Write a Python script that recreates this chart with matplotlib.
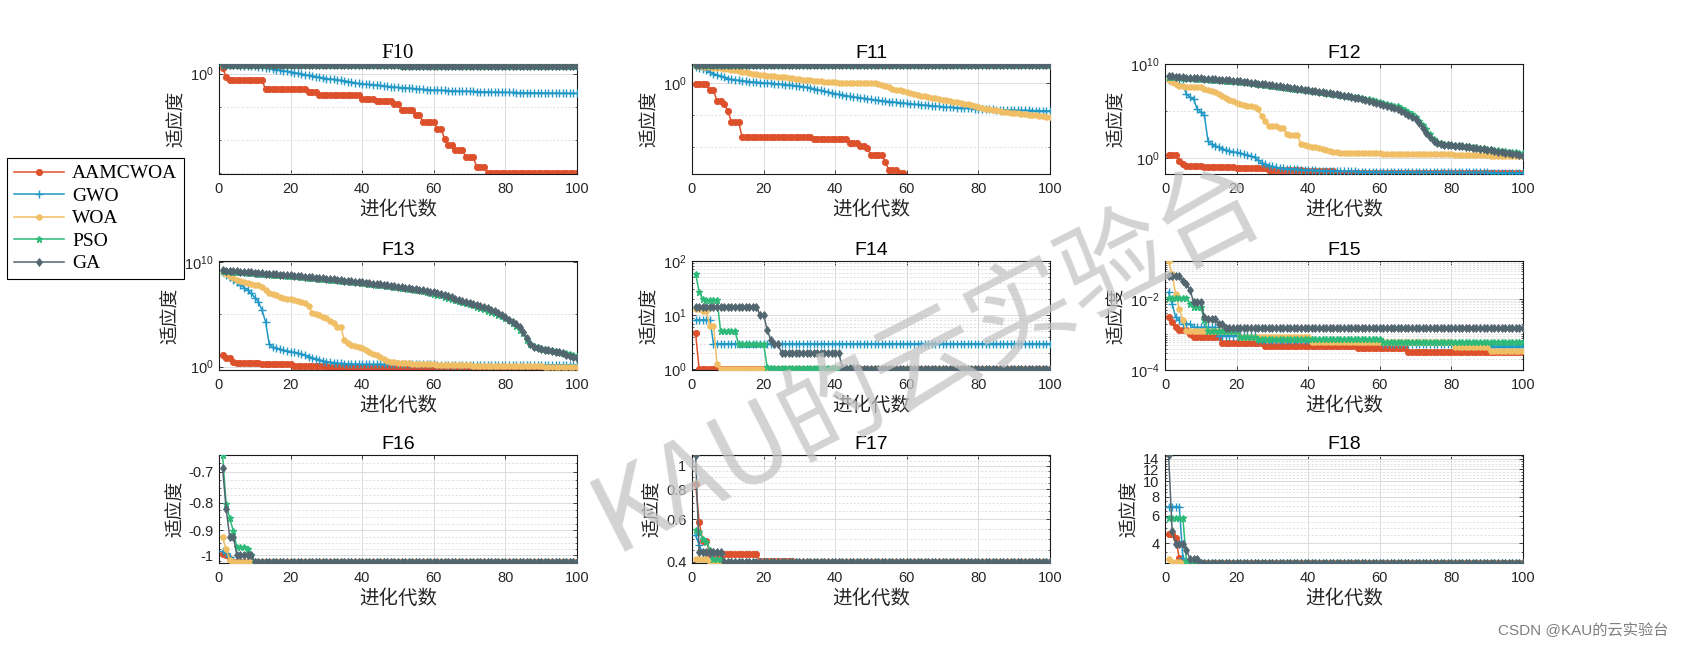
import numpy as np
import matplotlib
matplotlib.use('Agg')
import matplotlib.pyplot as plt
from matplotlib.ticker import FixedLocator, FixedFormatter, NullFormatter, NullLocator, LogFormatterSciNotation
from matplotlib.lines import Line2D

plt.rcParams['font.family'] = ['Liberation Sans', 'Noto Sans CJK SC']
plt.rcParams['mathtext.fontset'] = 'custom'
plt.rcParams['mathtext.rm'] = 'Liberation Sans'
plt.rcParams['mathtext.it'] = 'Liberation Sans:italic'
plt.rcParams['mathtext.bf'] = 'Liberation Sans:bold'


def rl(*pairs):
    """run-length literal: (value, count) pairs"""
    out = []
    for v, n in pairs:
        out.extend([v] * n)
    return out


NAN = float('nan')
ITER = list(range(1, 101))
ALGS = ['AAMCWOA', 'GWO', 'WOA', 'PSO', 'GA']
TITLES = ['F10', 'F11', 'F12', 'F13', 'F14', 'F15', 'F16', 'F17', 'F18']

# ---------- F10 (log10 of fitness) ----------
F10_AAMCWOA = rl((0.86, 1), (-0.5, 1), (-1.0, 10), (-2.37, 12), (-2.78, 3), (-3.28, 12), (-3.79, 4),
                 (-4.19, 5), (-4.65, 2), (-5.56, 4), (-6.31, 2), (-7.32, 4), (-8.33, 2), (-9.85, 1),
                 (-10.86, 2), (-11.62, 3), (-12.63, 3), (-14.14, 3), (-15.05, 26))
F10_GWO = [1.25, 1.25, 1.25, 1.25, 1.24, 1.22, 1.2, 1.18, 1.12, 1.08,
           1.05, 1.0, 0.92, 0.82, 0.72, 0.6, 0.52, 0.44, 0.35, 0.25,
           0.15, 0.05, -0.05, -0.15, -0.25, -0.35, -0.45, -0.55, -0.65, -0.75,
           -0.82, -0.88, -0.95, -1.02, -1.1, -1.2, -1.3, -1.4, -1.5, -1.55,
           -1.6, -1.65, -1.7, -1.75, -1.8, -1.86, -1.93, -2.0, -2.04, -2.08,
           -2.12, -2.16, -2.2, -2.25, -2.3, -2.34, -2.38, -2.42, -2.46, -2.5,
           -2.52, -2.54, -2.56, -2.58, -2.6, -2.63, -2.65, -2.66, -2.68, -2.7,
           -2.71, -2.72, -2.74, -2.76, -2.78, -2.8, -2.81, -2.82, -2.83, -2.84,
           -2.85, -2.86, -2.87, -2.88, -2.89, -2.9, -2.9, -2.91, -2.92, -2.93,
           -2.94, -2.95, -2.95, -2.96, -2.97, -2.97, -2.98, -2.99, -2.99, -3.0]
F10_WOA = rl((1.36, 50), (1.35, 50))
F10_PSO = rl((1.34, 20), (1.28, 30), (1.2, 30), (1.08, 20))
F10_GA = rl((1.35, 20), (1.3, 30), (1.22, 30), (1.12, 20))

# ---------- F11 (log10 of fitness; NaN = 0, not drawable on log axis) ----------
F11_AAMCWOA = rl((-0.26, 4), (-1.2, 2), (-2.86, 2), (-3.3, 1), (-4.4, 1), (-6.1, 3), (-8.5, 20),
                 (-8.75, 10), (-9.5, 3), (-9.9, 2), (-10.3, 1), (-11.35, 4), (-12.4, 1), (-13.7, 3),
                 (-14.2, 2), (NAN, 41))
F11_GWO = [2.55, 2.35, 2.15, 1.95, 1.7, 1.45, 1.25, 1.05, 0.85, 0.65,
           0.55, 0.47, 0.4, 0.33, 0.26, 0.2, 0.14, 0.09, 0.04, 0.0,
           -0.04, -0.08, -0.12, -0.16, -0.22, -0.28, -0.34, -0.4, -0.46, -0.52,
           -0.58, -0.68, -0.8, -0.92, -1.05, -1.2, -1.33, -1.46, -1.58, -1.7,
           -1.8, -1.9, -2.0, -2.1, -2.2, -2.28, -2.36, -2.44, -2.52, -2.6,
           -2.68, -2.76, -2.82, -2.88, -2.94, -3.0, -3.06, -3.12, -3.18, -3.24,
           -3.3, -3.35, -3.4, -3.45, -3.5, -3.55, -3.6, -3.65, -3.7, -3.75,
           -3.8, -3.83, -3.86, -3.89, -3.92, -3.95, -3.98, -4.01, -4.04, -4.06,
           -4.09, -4.12, -4.15, -4.18, -4.2, -4.22, -4.24, -4.26, -4.28, -4.3,
           -4.31, -4.32, -4.33, -4.34, -4.35, -4.36, -4.37, -4.38, -4.39, -4.4]
F11_WOA = [2.6, 2.6, 2.55, 2.5, 2.45, 2.4, 2.35, 2.3, 2.2, 2.1,
           2.05, 1.95, 1.85, 1.75, 1.67, 1.55, 1.45, 1.35, 1.25, 1.15,
           1.1, 1.05, 1.0, 0.95, 0.9, 0.85, 0.75, 0.68, 0.6, 0.55,
           0.5, 0.45, 0.4, 0.35, 0.3, 0.25, 0.2, 0.12, 0.08, 0.05,
           0.03, 0.02, 0.01, 0.0, 0.0, 0.0, 0.0, 0.0, -0.02, -0.05,
           -0.1, -0.2, -0.35, -0.5, -0.7, -0.9, -1.05, -1.2, -1.35, -1.5,
           -1.6, -1.7, -1.85, -2.0, -2.1, -2.24, -2.35, -2.45, -2.55, -2.65,
           -2.76, -2.85, -2.95, -3.05, -3.15, -3.28, -3.4, -3.55, -3.7, -3.85,
           -3.95, -4.05, -4.15, -4.22, -4.3, -4.4, -4.5, -4.58, -4.66, -4.74,
           -4.8, -4.86, -4.92, -5.0, -5.06, -5.12, -5.18, -5.24, -5.3, -5.36]
F11_PSO = rl((2.8, 100))
F11_GA = rl((2.8, 100))

# ---------- F12 (log10 of fitness) ----------
F12_AAMCWOA = rl((0.35, 3), (-0.25, 1), (-0.55, 1), (-0.8, 5), (-0.92, 9), (-1.05, 9), (-1.2, 10),
                 (-1.35, 9), (-1.5, 20), (-1.58, 33))
F12_GWO = [8.35, 8.2, 8.0, 7.85, 7.8, 6.8, 6.5, 6.25, 5.2, 4.9,
           4.56, 1.86, 1.5, 1.33, 1.2, 1.05, 0.9, 0.8, 0.7, 0.63,
           0.55, 0.45, 0.35, 0.28, 0.1, -0.2, -0.45, -0.6, -0.75, -0.85,
           -0.95, -1.0, -1.05, -1.08, -1.1, -1.12, -1.15, -1.18, -1.2, -1.22,
           -1.24, -1.26, -1.28, -1.3, -1.3, -1.31, -1.32, -1.33, -1.34, -1.35,
           -1.36, -1.37, -1.38, -1.39, -1.4, -1.4, -1.41, -1.41, -1.42, -1.42] + \
          rl((-1.43, 10), (-1.46, 10), (-1.49, 10), (-1.52, 10))
F12_WOA = [8.35, 8.1, 7.9, 7.7, 7.65, 7.6, 7.6, 7.58, 7.56, 7.56,
           7.4, 7.2, 7.1, 7.0, 6.8, 6.6, 6.4, 6.2, 6.05, 5.9,
           5.8, 5.7, 5.6, 5.5, 5.4, 5.2, 4.5, 4.0, 3.44, 3.44,
           3.44, 3.26, 3.26, 2.56, 2.5, 2.46, 2.46, 1.5, 1.4, 1.3,
           1.2, 1.16, 1.1, 1.0, 0.9, 0.8, 0.7, 0.65, 0.6, 0.58] + \
          rl((0.56, 10), (0.5, 10), (0.45, 10), (0.38, 10), (0.3, 5), (0.22, 5))
F12_PSO = [8.65, 8.63, 8.6, 8.58, 8.55, 8.53, 8.5, 8.48, 8.45, 8.43,
           8.4, 8.38, 8.35, 8.33, 8.3, 8.28, 8.25, 8.22, 8.2, 8.17,
           8.13, 8.09, 8.05, 8.0, 7.95, 7.9, 7.85, 7.8, 7.75, 7.7,
           7.65, 7.6, 7.55, 7.5, 7.45, 7.4, 7.35, 7.3, 7.25, 7.2,
           7.15, 7.1, 7.05, 7.0, 6.95, 6.9, 6.85, 6.8, 6.75, 6.7,
           6.64, 6.58, 6.52, 6.46, 6.4, 6.33, 6.25, 6.17, 6.08, 6.0,
           5.9, 5.8, 5.7, 5.6, 5.5, 5.35, 5.15, 4.95, 4.7, 4.42,
           4.0, 3.5, 3.09, 2.6, 2.1, 1.75, 1.6, 1.52, 1.48, 1.45,
           1.42, 1.39, 1.36, 1.33, 1.28, 1.23, 1.18, 1.13, 1.08, 1.03,
           0.98, 0.93, 0.88, 0.83, 0.78, 0.73, 0.68, 0.64, 0.6, 0.56]
F12_GA = [8.7, 8.68, 8.65, 8.62, 8.6, 8.57, 8.55, 8.52, 8.5, 8.47,
          8.45, 8.42, 8.4, 8.37, 8.35, 8.32, 8.3, 8.27, 8.24, 8.2,
          8.16, 8.12, 8.08, 8.03, 7.98, 7.93, 7.88, 7.83, 7.78, 7.73,
          7.68, 7.63, 7.58, 7.53, 7.48, 7.42, 7.37, 7.32, 7.27, 7.22,
          7.17, 7.12, 7.07, 7.02, 6.97, 6.92, 6.87, 6.8, 6.73, 6.66,
          6.59, 6.52, 6.45, 6.38, 6.3, 6.22, 6.12, 6.0, 5.88, 5.76,
          5.64, 5.52, 5.4, 5.3, 5.2, 5.0, 4.8, 4.6, 4.4, 4.14,
          3.7, 3.2, 2.74, 2.3, 1.86, 1.6, 1.5, 1.45, 1.42, 1.38,
          1.35, 1.32, 1.29, 1.26, 1.2, 1.14, 1.08, 1.02, 0.96, 0.9,
          0.84, 0.78, 0.72, 0.66, 0.6, 0.54, 0.48, 0.42, 0.36, 0.3]

# ---------- F13 (log10 of fitness) ----------
F13_AAMCWOA = rl((1.1, 1), (0.8, 2), (0.48, 1), (0.35, 7), (0.25, 9), (0.1, 10), (-0.05, 10),
                 (-0.15, 20), (-0.22, 20), (-0.27, 20))
F13_GWO = [9.05, 8.8, 8.55, 8.3, 8.05, 7.8, 7.55, 7.3, 7.0, 6.6,
           6.2, 5.4, 4.3, 2.2, 1.84, 1.75, 1.65, 1.55, 1.5, 1.43,
           1.35, 1.28, 1.2, 1.1, 0.95, 0.85, 0.75, 0.65, 0.55, 0.48,
           0.42, 0.38, 0.34, 0.3, 0.28, 0.26, 0.25, 0.24, 0.23, 0.22] + \
          rl((0.21, 20), (0.18, 20), (0.16, 20))
F13_WOA = [9.05, 8.85, 8.65, 8.45, 8.25, 8.15, 8.05, 7.95, 7.9, 7.85,
           7.8, 7.6, 7.3, 7.0, 6.9, 6.8, 6.7, 6.6, 6.5, 6.45,
           6.35, 6.25, 6.2, 6.1, 5.8, 5.1, 5.0, 4.9, 4.75, 4.6,
           4.4, 4.2, 3.8, 3.8, 2.54, 2.3, 2.1, 2.0, 1.9, 1.8,
           1.6, 1.4, 1.2, 1.1, 0.9, 0.7, 0.55, 0.48, 0.42, 0.38,
           0.35, 0.33, 0.31, 0.29, 0.27, 0.25, 0.24, 0.23, 0.22, 0.21] + \
          rl((0.15, 10), (0.1, 10), (0.05, 10), (0.0, 10))
F13_PSO = [9.15, 9.13, 9.1, 9.08, 9.05, 9.03, 9.0, 8.98, 8.95, 8.93,
           8.9, 8.88, 8.85, 8.83, 8.8, 8.78, 8.75, 8.73, 8.7, 8.68,
           8.65, 8.62, 8.59, 8.55, 8.52, 8.49, 8.45, 8.42, 8.39, 8.35,
           8.32, 8.29, 8.25, 8.22, 8.18, 8.15, 8.11, 8.08, 8.05, 8.01,
           7.97, 7.93, 7.89, 7.85, 7.81, 7.77, 7.73, 7.69, 7.65, 7.6,
           7.55, 7.5, 7.45, 7.4, 7.35, 7.3, 7.22, 7.14, 7.05, 6.96,
           6.88, 6.8, 6.7, 6.6, 6.5, 6.4, 6.3, 6.2, 6.1, 5.98,
           5.86, 5.74, 5.62, 5.5, 5.35, 5.2, 5.08, 4.95, 4.8, 4.62,
           4.44, 4.2, 3.9, 3.5, 3.17, 2.5, 2.2, 2.0, 1.9, 1.8,
           1.7, 1.62, 1.55, 1.48, 1.4, 1.32, 1.25, 1.18, 1.1, 1.0]
F13_GA = [9.2, 9.18, 9.15, 9.13, 9.1, 9.08, 9.05, 9.03, 9.0, 8.98,
          8.95, 8.93, 8.9, 8.88, 8.85, 8.83, 8.8, 8.78, 8.75, 8.73,
          8.7, 8.67, 8.64, 8.6, 8.57, 8.54, 8.5, 8.47, 8.44, 8.4,
          8.37, 8.34, 8.3, 8.27, 8.23, 8.2, 8.16, 8.13, 8.1, 8.06,
          8.02, 7.98, 7.94, 7.9, 7.86, 7.82, 7.78, 7.74, 7.7, 7.65,
          7.6, 7.55, 7.5, 7.45, 7.4, 7.35, 7.3, 7.25, 7.18, 7.1,
          7.02, 6.93, 6.84, 6.75, 6.65, 6.5, 6.4, 6.3, 6.2, 6.1,
          6.0, 5.9, 5.8, 5.7, 5.6, 5.45, 5.3, 5.1, 4.9, 4.7,
          4.5, 4.3, 4.05, 3.8, 3.3, 2.7, 2.2, 1.9, 1.8, 1.7,
          1.62, 1.55, 1.48, 1.43, 1.35, 1.25, 1.12, 1.0, 0.9, 0.8]

# ---------- F14 (fitness) ----------
F14_AAMCWOA = rl((4.7, 1), (0.998, 99))
F14_GWO = rl((8.2, 5), (2.98, 95))
F14_WOA = rl((12.9, 2), (11.7, 2), (6.4, 2), (1.23, 1), (1.0, 93))
F14_PSO = rl((58.7, 1), (27.0, 1), (19.6, 1), (19.2, 4), (5.0, 5), (2.98, 8), (1.1, 1), (1.08, 19), (1.0, 60))
F14_GA = rl((14.4, 18), (10.0, 2), (5.4, 1), (3.5, 1), (3.0, 2), (2.0, 17), (1.07, 5), (1.0, 54))

# ---------- F15 (log10 of fitness) ----------
F15_AAMCWOA = rl((-2.52, 1), (-2.66, 1), (-2.78, 1), (-2.87, 3), (-2.98, 1), (-3.08, 8), (-3.25, 12),
                 (-3.31, 26), (-3.38, 14), (-3.5, 33))
F15_GWO = rl((-1.81, 1), (-2.14, 1), (-2.52, 1), (-2.6, 1), (-2.7, 3), (-2.8, 7), (-3.03, 11),
             (-3.15, 35), (-3.27, 30), (-3.34, 10))
F15_WOA = rl((-0.94, 1), (-1.3, 1), (-1.86, 1), (-2.28, 1), (-2.6, 1), (-2.9, 15), (-3.06, 20),
             (-3.22, 40), (-3.36, 10), (-3.46, 10))
F15_PSO = rl((-1.97, 6), (-2.14, 1), (-2.23, 3), (-2.6, 1), (-2.9, 9), (-3.06, 5), (-3.13, 35), (-3.22, 40))
F15_GA = rl((-1.34, 4), (-1.5, 1), (-1.58, 1), (-1.75, 1), (-2.09, 3), (-2.52, 1), (-2.56, 3),
            (-2.7, 2), (-2.82, 84))

# ---------- F16 (fitness) ----------
F16_AAMCWOA = rl((-0.993, 1), (-1.0, 1), (-1.015, 1), (-1.0316, 97))
F16_GWO = rl((-0.982, 1), (-0.99, 1), (-1.01, 1), (-1.0316, 97))
F16_WOA = rl((-0.927, 1), (-0.976, 1), (-1.02, 1), (-1.0316, 97))
F16_PSO = rl((-0.653, 1), (-0.803, 1), (-0.854, 1), (-0.902, 1), (-0.966, 3), (-0.976, 1), (-1.0, 1), (-1.0316, 91))
F16_GA = rl((-0.69, 1), (-0.822, 1), (-0.925, 2), (-1.0, 5), (-1.0316, 91))

# ---------- F17 (fitness) ----------
F17_AAMCWOA = rl((0.845, 1), (0.586, 1), (0.49, 2), (0.432, 14), (0.404, 10), (0.4, 20), (0.398, 52))
F17_GWO = rl((0.517, 1), (0.47, 1), (0.436, 1), (0.432, 5), (0.398, 92))
F17_WOA = rl((0.412, 3), (0.41, 1), (0.398, 96))
F17_PSO = rl((0.545, 1), (0.533, 1), (0.5, 1), (0.486, 1), (0.45, 1), (0.41, 3), (0.398, 92))
F17_GA = rl((1.108, 1), (0.44, 7), (0.398, 92))

# ---------- F18 (fitness) ----------
F18_AAMCWOA = rl((4.58, 2), (4.35, 1), (3.2, 1), (3.0, 96))
F18_GWO = rl((6.9, 4), (3.2, 1), (3.0, 95))
F18_WOA = rl((3.18, 1), (3.05, 3), (3.0, 96))
F18_PSO = rl((5.78, 5), (3.07, 1), (3.0, 94))
F18_GA = rl((14.7, 1), (4.8, 1), (3.98, 3), (3.6, 1), (3.18, 3), (3.0, 91))

XTICKS = [0, 20, 40, 60, 80, 100]

COLORS = ['#DD502C', '#2198C6', '#F0BE64', '#2DBA78', '#526670']
MARKERS = ['o', '+', 'o', '*', 'd']
MSIZES = [4.5, 5.5, 4.0, 4.5, 4.5]

series = {
    'F10': [F10_AAMCWOA, F10_GWO, F10_WOA, F10_PSO, F10_GA],
    'F11': [F11_AAMCWOA, F11_GWO, F11_WOA, F11_PSO, F11_GA],
    'F12': [F12_AAMCWOA, F12_GWO, F12_WOA, F12_PSO, F12_GA],
    'F13': [F13_AAMCWOA, F13_GWO, F13_WOA, F13_PSO, F13_GA],
    'F14': [F14_AAMCWOA, F14_GWO, F14_WOA, F14_PSO, F14_GA],
    'F15': [F15_AAMCWOA, F15_GWO, F15_WOA, F15_PSO, F15_GA],
    'F16': [F16_AAMCWOA, F16_GWO, F16_WOA, F16_PSO, F16_GA],
    'F17': [F17_AAMCWOA, F17_GWO, F17_WOA, F17_PSO, F17_GA],
    'F18': [F18_AAMCWOA, F18_GWO, F18_WOA, F18_PSO, F18_GA],
}
is_exponent = {'F10': True, 'F11': True, 'F12': True, 'F13': True, 'F15': True,
               'F14': False, 'F16': False, 'F17': False, 'F18': False}


def dec(lo, hi):
    return [k * 10.0 ** e for e in range(lo, hi) for k in range(1, 10)]


yconf = {
    'F10': dict(scale='log', ylim=(10 ** -15.2, 10 ** 1.45), major=[1.0], labels=None, minor=[1e-5, 1e-10, 1e-15]),
    'F11': dict(scale='log', ylim=(10 ** -14.3, 10 ** 2.95), major=[1.0], labels=None, minor=[1e-5, 1e-10]),
    'F12': dict(scale='log', ylim=(10 ** -1.65, 1e10), major=[1.0, 1e10], labels=None, minor=[1e5]),
    'F13': dict(scale='log', ylim=(10 ** -0.33, 10 ** 10.1), major=[1.0, 1e10], labels=None, minor=[1e5]),
    'F14': dict(scale='log', ylim=(0.973, 100), major=[1, 10, 100], labels=None,
                minor=[v for v in dec(0, 2) if v not in (1, 10)]),
    'F15': dict(scale='log', ylim=(1e-4, 10 ** -0.93), major=[1e-4, 1e-2], labels=None,
                minor=[v for v in dec(-4, 0) if abs(np.log10(v) + 4) > 1e-9 and abs(np.log10(v) + 2) > 1e-9]),
    'F16': dict(scale='neglog', ylim=(-1.034, -0.652), major=[-1.0, -0.9, -0.8, -0.7],
                labels=['-1', '-0.9', '-0.8', '-0.7'],
                minor=[-1.025, -0.975, -0.95, -0.925, -0.875, -0.85, -0.825, -0.775, -0.75, -0.725, -0.675]),
    'F17': dict(scale='log', ylim=(0.396, 1.11), major=[0.4, 0.6, 0.8, 1.0], labels=['0.4', '0.6', '0.8', '1'],
                minor=[0.45, 0.5, 0.55, 0.65, 0.7, 0.75, 0.85, 0.9, 0.95, 1.05, 1.1]),
    'F18': dict(scale='log', ylim=(2.99, 14.8), major=[4, 6, 8, 10, 12, 14], labels=['4', '6', '8', '10', '12', '14'],
                minor=[3.0, 3.5, 4.5, 5.0, 5.5, 6.5, 7.0, 7.5, 8.5, 9.0, 9.5, 10.5, 11.0, 11.5, 12.5, 13.0, 13.5, 14.5]),
}

W, H = 1684, 650
fig = plt.figure(figsize=(W / 100, H / 100), dpi=100)
fig.patch.set_facecolor('white')

col_left = [219, 692, 1165]
axw = 358
rows = [(64, 174), (261, 370), (455, 563)]

TXT = '#262626'
GRID = '#DCDCDC'


def neg_fwd(y):
    return -np.log10(np.maximum(np.abs(y), 1e-12))


def neg_inv(u):
    return -10.0 ** (-u)


for idx, name in enumerate(TITLES):
    r, c = divmod(idx, 3)
    top, bot = rows[r]
    ax = fig.add_axes([col_left[c] / W, 1 - bot / H, axw / W, (bot - top) / H])
    conf = yconf[name]
    if conf['scale'] == 'log':
        ax.set_yscale('log', nonpositive='mask')
    else:
        ax.set_yscale('function', functions=(neg_fwd, neg_inv))
    for k, alg in enumerate(ALGS):
        y = np.array(series[name][k], dtype=float)
        if is_exponent[name]:
            y = 10.0 ** y
        ax.plot(ITER, y, color=COLORS[k], marker=MARKERS[k], markersize=MSIZES[k], lw=1.1,
                markeredgewidth=1.0 if MARKERS[k] in '+*' else 0.6, clip_on=True, zorder=2 + k)
    ax.set_xlim(0, 100)
    ax.set_ylim(*conf['ylim'])
    ax.xaxis.set_major_locator(FixedLocator(XTICKS))
    ax.xaxis.set_minor_locator(NullLocator())
    ax.yaxis.set_major_locator(FixedLocator(conf['major']))
    if conf['labels'] is not None:
        ax.yaxis.set_major_formatter(FixedFormatter(conf['labels']))
    else:
        ax.yaxis.set_major_formatter(LogFormatterSciNotation())
    ax.yaxis.set_minor_locator(FixedLocator(conf['minor']))
    ax.yaxis.set_minor_formatter(NullFormatter())
    ax.set_axisbelow(True)
    ax.grid(True, which='major', color=GRID, lw=0.7, ls='-')
    ax.grid(True, which='minor', axis='y', color=GRID, lw=0.6, ls=(0, (2.5, 2)))
    ax.tick_params(which='both', direction='in', top=True, right=True, labelsize=10.5,
                   labelcolor=TXT, color=TXT)
    ax.tick_params(axis='x', which='both', pad=6)
    ax.tick_params(axis='y', which='both', pad=4)
    ax.tick_params(which='major', length=3, width=0.6)
    ax.tick_params(which='minor', length=1.5, width=0.5)
    for s in ax.spines.values():
        s.set_color('#1a1a1a')
        s.set_linewidth(0.8)
    tfam = ['Liberation Serif'] if name == 'F10' else ['Liberation Sans']
    tsize = 15 if name == 'F10' else 14
    ax.set_title(name, fontsize=tsize, pad=4, family=tfam, color='black')
    ax.set_xlabel('进化代数', fontsize=14, family=['Noto Sans CJK SC'], color=TXT, labelpad=2)
    ax.set_ylabel('适应度', fontsize=13.5, family=['Noto Sans CJK SC'], color=TXT, labelpad=2)

# legend
handles = [Line2D([0], [0], color=COLORS[k], marker=MARKERS[k], markersize=MSIZES[k], lw=1.1,
                  markeredgewidth=1.0 if MARKERS[k] in '+*' else 0.6) for k in range(5)]
leg = fig.legend(handles, ALGS, loc='upper left', bbox_to_anchor=(7 / W, 1 - 158 / H),
                 frameon=True, fancybox=False, edgecolor='black', framealpha=1,
                 prop={'family': 'Liberation Serif', 'size': 14}, handlelength=2.6,
                 handletextpad=0.4, labelspacing=0.25, borderpad=0.35, borderaxespad=0)
leg.get_frame().set_linewidth(0.8)

# watermark
fig.text(928 / W, 1 - 358 / H, 'KAU的云实验台', fontsize=76, rotation=27, color='#C4C4C4', alpha=0.75,
         ha='center', va='center', family=['Noto Sans CJK SC'], zorder=20)
fig.text(1668 / W, 1 - 631 / H, 'CSDN @KAU的云实验台', fontsize=11, color='#7F7F7F',
         ha='right', va='center', family=['Liberation Sans', 'Noto Sans CJK SC'])

fig.savefig('out.png', dpi=100, facecolor='white')
